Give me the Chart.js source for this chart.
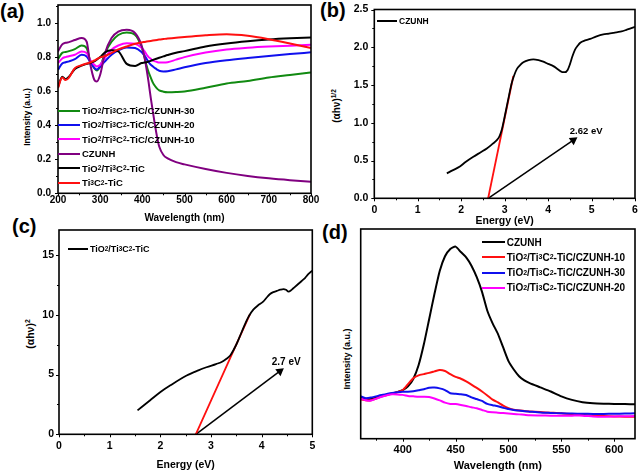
<!DOCTYPE html>
<html>
<head>
<meta charset="utf-8">
<script src="https://cdn.jsdelivr.net/npm/chart.js@4.4.1/dist/chart.umd.min.js"></script>
<style>
  html, body { margin: 0; padding: 0; background: #fff; }
  #fig { position: relative; width: 640px; height: 474px; overflow: hidden;
         font-family: 'Liberation Sans', Arial, sans-serif; font-weight: bold; color: #000; }
  #fig canvas { position: absolute; }
  .lbl { position: absolute; font-size: 20px; line-height: 1; }
  .ytitle { position: absolute; white-space: nowrap; line-height: 1;
            transform: translate(-50%, -50%) rotate(-90deg); }
  .row { position: absolute; height: 14px; display: flex; align-items: center; white-space: nowrap; }
  .sw { display: inline-block; height: 2px; margin-right: 2px; }
  sub { font-size: 70%; vertical-align: -0.3em; line-height: 0; }
  sup { font-size: 65%; vertical-align: 0.6em; line-height: 0; }
</style>
</head>
<body>
<div id="fig">
  <div class="lbl" style="left:0px;top:1px">(a)</div>
  <div class="lbl" style="left:320px;top:0px">(b)</div>
  <div class="lbl" style="left:12px;top:216px">(c)</div>
  <div class="lbl" style="left:322px;top:222px">(d)</div>
  <div class="ytitle" style="left:27px;top:117px;font-size:8.5px">Intensity (a.u.)</div>
  <div class="ytitle" style="left:337px;top:106px;font-size:10px">(&alpha;h&nu;)<sup>1/2</sup></div>
  <div class="ytitle" style="left:30px;top:334px;font-size:10.5px">(&alpha;h&nu;)<sup>2</sup></div>
  <div class="ytitle" style="left:347px;top:359px;font-size:9px">Intensity (a.u.)</div>
</div>
<script>
// ---------- (a) UV-vis diffuse reflectance ----------
var wlA = [200, 210, 218, 226, 240, 256, 268, 276, 286, 292, 300, 311, 327, 343, 363, 383, 398,
           405, 410, 415, 420, 425, 430, 435, 440, 450, 460, 480, 500, 550, 600, 650, 700, 750, 800];
var aCzunh30 = [0.788, 0.825, 0.830, 0.835, 0.847, 0.868, 0.853, 0.780, 0.735, 0.722, 0.745, 0.820, 0.890, 0.930, 0.945, 0.930, 0.860,
                0.800, 0.750, 0.710, 0.680, 0.650, 0.630, 0.615, 0.605, 0.597, 0.594, 0.595, 0.598, 0.620, 0.645, 0.660, 0.680, 0.695, 0.710];
var aCzunh20 = [0.725, 0.762, 0.770, 0.775, 0.788, 0.814, 0.804, 0.774, 0.737, 0.727, 0.745, 0.774, 0.814, 0.839, 0.857, 0.853, 0.830,
                0.810, 0.790, 0.770, 0.755, 0.745, 0.735, 0.727, 0.720, 0.716, 0.717, 0.728, 0.740, 0.765, 0.782, 0.795, 0.807, 0.818, 0.828];
var aCzunh10 = [0.765, 0.792, 0.800, 0.805, 0.814, 0.833, 0.824, 0.784, 0.755, 0.745, 0.755, 0.794, 0.843, 0.868, 0.882, 0.878, 0.855,
                0.835, 0.815, 0.800, 0.790, 0.780, 0.775, 0.771, 0.768, 0.768, 0.770, 0.785, 0.800, 0.827, 0.845, 0.855, 0.862, 0.867, 0.872];
var aCzunh = [0.833, 0.875, 0.884, 0.888, 0.900, 0.912, 0.890, 0.765, 0.667, 0.656, 0.696, 0.820, 0.912, 0.950, 0.960, 0.940, 0.870,
              0.800, 0.730, 0.650, 0.560, 0.480, 0.400, 0.330, 0.275, 0.225, 0.205, 0.183, 0.170, 0.143, 0.120, 0.102, 0.088, 0.077, 0.068];
var aTio2 = [0.624, 0.685, 0.670, 0.685, 0.730, 0.750, 0.760, 0.765, 0.775, 0.785, 0.800, 0.827, 0.840, 0.833, 0.760, 0.748, 0.765,
             0.768, 0.770, 0.774, 0.778, 0.783, 0.788, 0.792, 0.796, 0.804, 0.812, 0.826, 0.835, 0.862, 0.880, 0.893, 0.903, 0.910, 0.915];
var aTi3c2 = [0.618, 0.680, 0.665, 0.680, 0.735, 0.752, 0.762, 0.768, 0.780, 0.788, 0.798, 0.806, 0.825, 0.845, 0.862, 0.878, 0.886,
              0.889, 0.891, 0.893, 0.895, 0.897, 0.899, 0.901, 0.903, 0.906, 0.909, 0.914, 0.918, 0.928, 0.934, 0.925, 0.905, 0.880, 0.853];
var labelsA = ['TiO2/Ti3C2-TiC/CZUNH-30', 'TiO2/Ti3C2-TiC/CZUNH-20', 'TiO2/Ti3C2-TiC/CZUNH-10',
               'CZUNH', 'TiO2/Ti3C2-TiC', 'Ti3C2-TiC'];
var colorsA = ['#118a11', '#1010ee', '#ff00ff', '#800080', '#000000', '#ff1010'];
var seriesA = [aCzunh30, aCzunh20, aCzunh10, aCzunh, aTio2, aTi3c2];
var xTicksA = [200, 300, 400, 500, 600, 700, 800];
var yTicksA = [0, 0.2, 0.4, 0.6, 0.8, 1.0];

// ---------- (b) Tauc plot, CZUNH ----------
var eB = [1.67, 1.8, 1.97, 2.1, 2.28, 2.45, 2.59, 2.72, 2.82, 2.88, 2.93, 3.0, 3.05, 3.1, 3.16, 3.22, 3.28, 3.35, 3.43, 3.55,
          3.66, 3.78, 3.89, 4.0, 4.12, 4.2, 4.27, 4.33, 4.39, 4.45, 4.5, 4.56, 4.62, 4.68, 4.74, 4.85, 4.97, 5.1, 5.27, 5.4,
          5.5, 5.6, 5.69, 5.8, 5.9, 6.0];
var tB = [0.33, 0.37, 0.42, 0.48, 0.55, 0.61, 0.66, 0.72, 0.77, 0.82, 0.90, 1.08, 1.22, 1.36, 1.52, 1.63, 1.71, 1.76, 1.80, 1.83,
          1.84, 1.83, 1.81, 1.78, 1.75, 1.72, 1.69, 1.67, 1.67, 1.70, 1.77, 1.88, 1.97, 2.02, 2.06, 2.09, 2.11, 2.14, 2.17, 2.18,
          2.19, 2.20, 2.21, 2.23, 2.25, 2.27];
var fitBx = [2.62, 3.2];
var fitBy = [0, 1.62];
var arrowBx = [2.62, 4.58];
var arrowBy = [0, 0.77];
var gapB = { x: 4.5, y: 0.88, text: '2.62 eV' };
var xTicksB = [0, 1, 2, 3, 4, 5, 6];
var yTicksB = [0, 0.5, 1.0, 1.5, 2.0, 2.5];

// ---------- (c) Tauc plot, TiO2/Ti3C2-TiC ----------
var eC = [1.55, 1.8, 1.99, 2.2, 2.52, 2.75, 2.91, 3.1, 3.21, 3.3, 3.38, 3.45, 3.51, 3.6, 3.67, 3.75, 3.84, 3.93, 4.03, 4.1,
          4.16, 4.23, 4.3, 4.37, 4.43, 4.48, 4.53, 4.58, 4.62, 4.7, 4.79, 4.86, 4.92, 5.0];
var tC = [2.0, 2.85, 3.5, 4.1, 4.92, 5.35, 5.61, 5.88, 6.05, 6.3, 6.6, 7.1, 7.6, 8.5, 9.2, 9.9, 10.45, 10.8, 11.1, 11.45,
          11.72, 11.9, 12.0, 12.1, 12.15, 12.1, 11.95, 12.05, 12.2, 12.5, 12.83, 13.1, 13.4, 13.7];
var fitCx = [2.7, 3.77];
var fitCy = [0, 10.06];
var arrowCx = [2.7, 4.36];
var arrowCy = [0, 5.28];
var gapC = { x: 4.2, y: 6.0, text: '2.7 eV' };
var xTicksC = [0, 1, 2, 3, 4, 5];
var yTicksC = [0, 5, 10, 15];

// ---------- (d) PL spectra ----------
var wlD = [360, 365, 370, 380, 390, 400, 405, 410, 415, 420, 425, 430, 435, 440, 445, 450, 455, 460, 465, 470,
           475, 480, 485, 490, 495, 500, 505, 510, 515, 520, 530, 540, 550, 560, 570, 580, 590, 600, 610, 620];
var plCzunh = [19.6, 19.0, 18.9, 20.3, 21.6, 23.2, 25.0, 28.5, 35.0, 45.0, 57.0, 69.0, 80.0, 87.0, 90.5, 91.6, 89.0, 86.5, 82.5, 77.0,
               70.0, 61.0, 55.0, 50.0, 43.5, 37.0, 33.0, 29.8, 27.8, 26.5, 24.5, 22.5, 20.2, 18.5, 17.4, 16.9, 16.7, 16.6, 16.5, 16.4];
var plCzunh10 = [18.8, 18.3, 18.3, 20.1, 21.5, 23.2, 26.0, 28.8, 30.2, 30.8, 31.4, 32.1, 32.8, 32.3, 30.8, 29.5, 28.6, 27.3, 25.8, 24.2,
                 22.5, 20.6, 18.6, 17.3, 15.8, 14.6, 13.8, 13.5, 13.2, 13.0, 12.7, 12.4, 12.1, 11.6, 11.3, 11.0, 10.8, 10.6, 10.5, 10.5];
var plCzunh30 = [20.3, 19.3, 19.6, 20.8, 21.8, 22.4, 22.4, 22.6, 23.1, 23.6, 24.3, 24.4, 24.0, 23.2, 21.7, 21.4, 21.2, 20.8, 19.7, 18.9,
                 18.0, 16.6, 16.0, 15.5, 14.7, 14.2, 13.7, 13.4, 13.1, 12.9, 12.5, 12.3, 12.1, 12.0, 11.9, 11.8, 11.8, 11.9, 12.0, 12.1];
var plCzunh20 = [19.2, 18.3, 18.2, 20.0, 21.2, 20.9, 20.4, 20.2, 20.0, 20.0, 19.9, 19.2, 18.3, 17.2, 16.6, 16.5, 16.1, 15.6, 15.0, 14.5,
                 13.7, 12.9, 12.6, 12.4, 12.2, 12.0, 11.8, 11.6, 11.4, 11.2, 11.1, 11.0, 11.0, 11.0, 11.0, 10.6, 10.5, 10.6, 10.7, 10.8];
var labelsD = ['CZUNH', 'TiO2/Ti3C2-TiC/CZUNH-10', 'TiO2/Ti3C2-TiC/CZUNH-30', 'TiO2/Ti3C2-TiC/CZUNH-20'];
var colorsD = ['#000000', '#ff1010', '#1010ee', '#ff00ff'];
var seriesD = [plCzunh, plCzunh10, plCzunh30, plCzunh20];
var xTicksD = [400, 450, 500, 550, 600];

var FONT = "'Liberation Sans', Arial, sans-serif";
Chart.defaults.font.family = FONT;
Chart.defaults.color = '#000';

function pts(xs, ys) {
  return xs.map(function(x, i) { return { x: x, y: ys[i] }; });
}

// major ticks plus half-step minor ticks, all inside [min, max]
function tickMarks(major, min, max) {
  var step = major[1] - major[0];
  var out = [];
  for (var v = major[0] - step / 2; v <= max + 1e-9; v += step / 2) {
    if (v < min - 1e-9) continue;
    var isMajor = major.some(function(m) { return Math.abs(m - v) < 1e-6; });
    out.push([v, isMajor ? 3 : 2]);
  }
  return out;
}

function htmlLabel(s) {
  return s.replace(/([A-Za-z])(\d)/g, '$1<sub>$2</sub>');
}

function addLegend(left, top, dy, lineW, size, labels, colors) {
  var fig = document.getElementById('fig');
  labels.forEach(function(lab, i) {
    var row = document.createElement('div');
    row.className = 'row';
    row.style.left = left + 'px';
    row.style.top = (top + i * dy - 7) + 'px';
    row.style.fontSize = size + 'px';
    row.innerHTML = '<span class="sw" style="width:' + lineW + 'px;background:' + colors[i] + '"></span>' + htmlLabel(lab);
    fig.appendChild(row);
  });
}

var framePlugin = {
  id: 'frame',
  afterDraw: function(chart, args, o) {
    var ctx = chart.ctx, a = chart.chartArea, sx = chart.scales.x, sy = chart.scales.y;
    ctx.save();
    ctx.strokeStyle = '#000';
    ctx.lineWidth = 1;
    ctx.beginPath();
    (o.xMarks || []).forEach(function(m) {
      var px = Math.round(sx.getPixelForValue(m[0])) + 0.5;
      ctx.moveTo(px, a.bottom); ctx.lineTo(px, a.bottom + m[1]);
    });
    (o.yMarks || []).forEach(function(m) {
      var py = Math.round(sy.getPixelForValue(m[0])) + 0.5;
      ctx.moveTo(a.left, py); ctx.lineTo(a.left - m[1], py);
    });
    ctx.stroke();
    ctx.lineWidth = 1.6;
    ctx.strokeRect(a.left, a.top, a.right - a.left, a.bottom - a.top);
    ctx.restore();
  }
};

var notePlugin = {
  id: 'note',
  afterDatasetsDraw: function(chart, args, o) {
    if (!o || !o.text) return;
    var ctx = chart.ctx;
    ctx.save();
    ctx.font = 'bold ' + o.size + 'px ' + FONT;
    ctx.fillStyle = '#000';
    ctx.textBaseline = 'middle';
    ctx.fillText(o.text, chart.scales.x.getPixelForValue(o.x), chart.scales.y.getPixelForValue(o.y));
    ctx.restore();
  }
};

// rotation that makes a triangle point along the segment, in pixel space
function arrowRotation(ctx) {
  var d = ctx.dataset.data, ch = ctx.chart;
  if (!ch.scales.x || d.length < 2) return 0;
  var dx = ch.scales.x.getPixelForValue(d[1].x) - ch.scales.x.getPixelForValue(d[0].x);
  var dy = ch.scales.y.getPixelForValue(d[1].y) - ch.scales.y.getPixelForValue(d[0].y);
  return Math.atan2(dx, -dy) * 180 / Math.PI;
}

function lineSet(label, data, color, width) {
  return { label: label, data: data, borderColor: color, backgroundColor: color,
           borderWidth: width, pointRadius: 0, cubicInterpolationMode: 'monotone', fill: false };
}

function arrowSet(xs, ys) {
  return { label: 'arrow', data: pts(xs, ys), borderColor: '#000', backgroundColor: '#000',
           borderWidth: 1.5, tension: 0, pointRadius: [0, 5], pointStyle: 'triangle',
           pointBorderWidth: 0, pointRotation: arrowRotation };
}

function makePanel(p) {
  var c = document.createElement('canvas');
  c.width = p.box[2]; c.height = p.box[3];
  c.style.left = p.box[0] + 'px'; c.style.top = p.box[1] + 'px';
  c.style.width = p.box[2] + 'px'; c.style.height = p.box[3] + 'px';
  document.getElementById('fig').appendChild(c);
  var L = p.area[0], T = p.area[1], R = p.area[2], B = p.area[3];
  var xH = c.height - p.padB - B;

  return new Chart(c.getContext('2d'), {
    type: 'line',
    data: { datasets: p.datasets },
    options: {
      responsive: false,
      animation: false,
      devicePixelRatio: 1,
      layout: { padding: { left: 0, top: T, right: c.width - R, bottom: p.padB } },
      plugins: {
        legend: { display: false },
        tooltip: { enabled: false },
        frame: { xMarks: p.xMarks, yMarks: p.yMarks },
        note: p.note || {}
      },
      scales: {
        x: {
          type: 'linear', min: p.xRange[0], max: p.xRange[1],
          afterBuildTicks: function(s) { s.ticks = p.xTicks.map(function(v) { return { value: v }; }); },
          afterFit: function(s) { s.height = xH; s.paddingLeft = 0; s.paddingRight = 0; },
          grid: { display: false, drawTicks: false },
          border: { display: false },
          ticks: { color: '#000', autoSkip: false, maxRotation: 0, padding: p.xPad,
                   font: { size: p.fontSize, weight: 'bold' },
                   callback: function(v) { return p.xFmt(v); } },
          title: { display: true, text: p.xTitle, color: '#000', padding: 0,
                   font: { size: p.fontSize, weight: 'bold' } }
        },
        y: {
          type: 'linear', min: p.yRange[0], max: p.yRange[1],
          afterBuildTicks: function(s) { s.ticks = (p.yTicks || []).map(function(v) { return { value: v }; }); },
          afterFit: function(s) { s.width = L; s.paddingTop = 0; s.paddingBottom = 0; },
          grid: { display: false, drawTicks: false },
          border: { display: false },
          ticks: { display: !!p.yTicks, color: '#000', padding: p.yPad,
                   font: { size: p.fontSize, weight: 'bold' },
                   callback: function(v) { return p.yFmt(v); } }
        }
      }
    },
    plugins: [framePlugin, notePlugin]
  });
}

function fixed1(v) { return Number(v).toFixed(1); }
function whole(v) { return String(Math.round(v)); }

// (a)
var dsA = seriesA.map(function(ys, i) { return lineSet(labelsA[i], pts(wlA, ys), colorsA[i], 2); }).reverse();
makePanel({
  box: [0, 0, 320, 237], area: [58, 5, 311, 193.3], padB: 13,
  xRange: [200, 800], yRange: [0, 1.106], xTicks: xTicksA, yTicks: yTicksA,
  xFmt: whole, yFmt: fixed1, xTitle: 'Wavelength (nm)', fontSize: 10, xPad: 1, yPad: 7,
  xMarks: tickMarks(xTicksA, 200, 800), yMarks: tickMarks(yTicksA, 0, 1.106),
  datasets: dsA
});
addLegend(58, 110.5, 14.4, 22, 9.5, labelsA, colorsA);

// (b)
makePanel({
  box: [320, 0, 320, 237], area: [54.3, 9.5, 315, 198.3], padB: 9.7,
  xRange: [0, 6], yRange: [0, 2.5], xTicks: xTicksB, yTicks: yTicksB,
  xFmt: whole, yFmt: fixed1, xTitle: 'Energy (eV)', fontSize: 10.5, xPad: 6, yPad: 6,
  xMarks: tickMarks(xTicksB, 0, 6), yMarks: tickMarks(yTicksB, 0, 2.5),
  note: { x: gapB.x, y: gapB.y, text: gapB.text, size: 9.5 },
  datasets: [
    lineSet('CZUNH', pts(eB, tB), '#000', 1.8),
    lineSet('fit', pts(fitBx, fitBy), '#ff1010', 1.8),
    arrowSet(arrowBx, arrowBy)
  ]
});
addLegend(377, 21, 0, 20, 8.5, ['CZUNH'], ['#000']);

// (c)
makePanel({
  box: [0, 225, 320, 249], area: [59, 4, 312.3, 209.3], padB: 3,
  xRange: [0, 5], yRange: [0, 17.1], xTicks: xTicksC, yTicks: yTicksC,
  xFmt: whole, yFmt: whole, xTitle: 'Energy (eV)', fontSize: 10.5, xPad: 6, yPad: 5,
  xMarks: tickMarks(xTicksC, 0, 5), yMarks: tickMarks(yTicksC, 0, 17.1),
  note: { x: gapC.x, y: gapC.y, text: gapC.text, size: 10 },
  datasets: [
    lineSet('TiO2/Ti3C2-TiC', pts(eC, tC), '#000', 1.8),
    lineSet('fit', pts(fitCx, fitCy), '#ff1010', 1.8),
    arrowSet(arrowCx, arrowCy)
  ]
});
addLegend(68, 248.7, 0, 20, 9, ['TiO2/Ti3C2-TiC'], ['#000']);

// (d)
var dsD = seriesD.map(function(ys, i) {
  var d = lineSet(labelsD[i], pts(wlD, ys), colorsD[i], 2);
  d.cubicInterpolationMode = 'default';
  d.tension = 0.2;
  return d;
}).reverse();
makePanel({
  box: [320, 225, 320, 249], area: [40.7, 4, 315, 213.7], padB: 1.4,
  xRange: [360.3, 619.6], yRange: [0, 100], xTicks: xTicksD, yTicks: null,
  xFmt: whole, yFmt: whole, xTitle: 'Wavelength (nm)', fontSize: 11, xPad: 4.5, yPad: 0,
  xMarks: tickMarks(xTicksD, 360.3, 619.6), yMarks: [],
  datasets: dsD
});
addLegend(481.7, 242, 15.3, 23, 10, labelsD, colorsD);
</script>
</body>
</html>
